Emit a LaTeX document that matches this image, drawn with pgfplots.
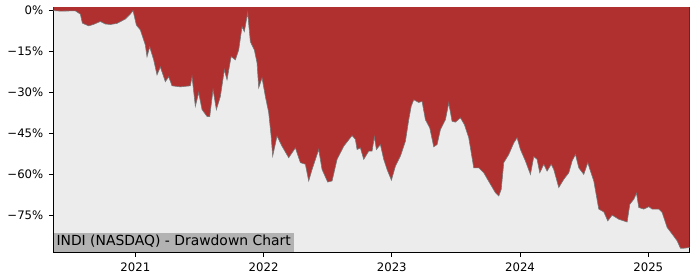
\documentclass[border=0pt]{standalone}
\usepackage{fontspec}
\setmainfont{DejaVu Sans}
\usepackage{pgfplots}
\pgfplotsset{compat=1.18}
\usepackage{pgfplotstable}
\usepgfplotslibrary{fillbetween}
\definecolor{ddred}{RGB}{176,48,48}
\definecolor{bggray}{RGB}{236,236,236}
\definecolor{lblgray}{RGB}{178,178,178}
\definecolor{ddline}{RGB}{120,120,120}

\pgfplotstableread{
x y
2020.360 0
2020.415 -0.2
2020.532 -0.1
2020.571 -1.3
2020.587 -4.6
2020.636 -5.6
2020.672 -5.1
2020.727 -4.0
2020.766 -4.9
2020.805 -5.1
2020.857 -4.7
2020.922 -3.1
2020.961 -1.3
2020.982 0
2021.008 -5.3
2021.039 -7.1
2021.078 -12.6
2021.091 -16.9
2021.112 -13.3
2021.143 -18.0
2021.169 -23.5
2021.195 -20.6
2021.234 -26.0
2021.260 -24.2
2021.286 -27.5
2021.351 -27.9
2021.429 -27.5
2021.442 -24.1
2021.468 -35.0
2021.494 -30.0
2021.520 -36.2
2021.559 -38.7
2021.580 -38.8
2021.606 -28.9
2021.632 -36.2
2021.663 -31.4
2021.694 -21.7
2021.715 -25.3
2021.747 -16.8
2021.780 -18.0
2021.806 -14.4
2021.832 -5.9
2021.850 -7.7
2021.876 -0.8
2021.897 -11.4
2021.928 -14.4
2021.949 -19.1
2021.962 -28.2
2021.988 -24.6
2022.014 -31.4
2022.040 -37.3
2022.059 -45.9
2022.071 -53.2
2022.105 -45.9
2022.144 -49.6
2022.196 -53.8
2022.248 -50.2
2022.287 -55.6
2022.326 -56.2
2022.352 -62.3
2022.378 -58.1
2022.430 -50.8
2022.456 -58.1
2022.500 -62.7
2022.534 -62.3
2022.573 -54.4
2022.625 -49.6
2022.690 -45.7
2022.716 -47.1
2022.729 -50.8
2022.755 -50.2
2022.781 -54.4
2022.820 -51.4
2022.846 -51.4
2022.864 -46.2
2022.880 -50.8
2022.911 -49.0
2022.937 -54.4
2022.963 -58.1
2022.997 -62.0
2023.028 -56.9
2023.067 -53.2
2023.106 -47.8
2023.132 -39.9
2023.151 -35.0
2023.171 -32.6
2023.210 -33.6
2023.236 -33.2
2023.262 -39.9
2023.296 -42.9
2023.327 -49.8
2023.353 -49.0
2023.379 -43.5
2023.418 -39.9
2023.444 -33.8
2023.470 -40.5
2023.496 -40.8
2023.535 -39.2
2023.566 -41.7
2023.600 -46.5
2023.639 -57.5
2023.678 -57.5
2023.717 -59.3
2023.769 -63.5
2023.808 -66.6
2023.834 -67.8
2023.853 -65.4
2023.873 -55.6
2023.912 -52.6
2023.951 -48.4
2023.977 -46.5
2024.003 -50.8
2024.042 -55.0
2024.081 -59.9
2024.107 -53.4
2024.133 -54.4
2024.154 -59.3
2024.185 -56.2
2024.211 -58.7
2024.243 -56.2
2024.263 -58.1
2024.302 -64.7
2024.341 -61.7
2024.380 -59.3
2024.406 -55.0
2024.432 -52.6
2024.458 -57.5
2024.497 -59.9
2024.528 -55.6
2024.549 -58.7
2024.575 -62.3
2024.614 -72.6
2024.653 -73.6
2024.684 -76.9
2024.718 -74.8
2024.770 -76.3
2024.835 -77.3
2024.856 -70.8
2024.887 -69.0
2024.908 -66.8
2024.926 -72.0
2024.965 -72.6
2025.004 -71.7
2025.030 -72.6
2025.082 -72.6
2025.108 -73.8
2025.147 -79.3
2025.186 -81.7
2025.225 -84.2
2025.251 -86.9
2025.277 -86.9
2025.325 -86.6
}\dd

\begin{document}
\begin{tikzpicture}
\begin{axis}[
  name=ax,
  scale only axis,
  width=636bp, height=245bp,
  xmin=2020.3604, xmax=2025.3214,
  ymin=-88.3, ymax=1.3,
  axis background/.style={fill=bggray},
  axis line style={black, line width=0.9bp},
  tick style={black, line width=0.9bp},
  tick align=outside,
  major tick length=4.5bp,
  xtick pos=bottom, ytick pos=left,
  xtick={2021,2022,2023,2024,2025},
  xticklabels={2021,2022,2023,2024,2025},
  ytick={0,-15,-30,-45,-60,-75},
  yticklabels={0\%,−15\%,−30\%,−45\%,−60\%,−75\%},
  ticklabel style={font=\fontsize{11.7bp}{14bp}\selectfont},
  xticklabel style={yshift=-2.5bp},
  yticklabel style={xshift=-2bp},
  /pgf/number format/assume math mode=true,
  clip=true,
]
\addplot[name path=dd, draw=none] table {\dd};
\addplot[name path=top, draw=none] coordinates {(2020.360,1.5) (2025.325,1.5)};
\addplot[ddred] fill between[of=top and dd];
\addplot[draw=ddline, line width=0.6bp] table {\dd};
\node[anchor=south west, fill=lblgray, inner xsep=3bp, inner ysep=0bp,
  text height=13bp, text depth=6bp,
  font=\fontsize{13.9bp}{16bp}\selectfont] at (rel axis cs:0,0) {INDI (NASDAQ) - Drawdown Chart};
\end{axis}
\path[use as bounding box] ([shift={(-53.3bp,-27.7bp)}]ax.south west) rectangle ([shift={(10.5bp,7bp)}]ax.north east);
\end{tikzpicture}
\end{document}
